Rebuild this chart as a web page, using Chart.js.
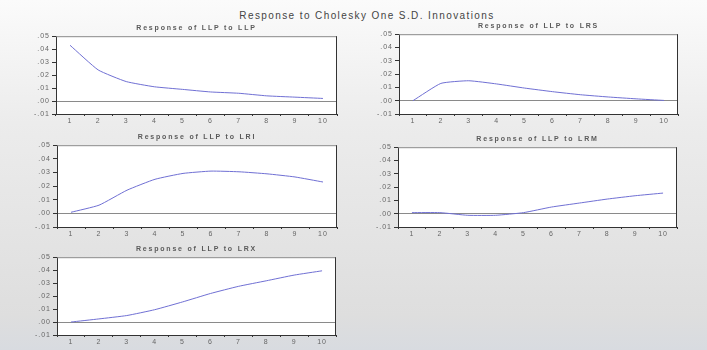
<!DOCTYPE html>
<html>
<head>
	<title>Response to Cholesky One S.D. Innovations</title>
	<script src="https://cdn.jsdelivr.net/npm/chart.js@4.4.0/dist/chart.umd.min.js"></script>
	<style>
		html, body { margin: 0; padding: 0; }
		body {
			width: 707px; height: 350px; overflow: hidden; position: relative;
			background: linear-gradient(to bottom, #fbfbfb 0%, #ececec 35%, #dedede 90%, #d8dbe0 100%);
			font-family: "Liberation Sans", Arial, sans-serif;
		}
		canvas { position: absolute; }
		.ttl { position: absolute; transform: translate(-50%, -50%); white-space: nowrap; color: #444; }
		.main { font-size: 10px; letter-spacing: 1.4px; color: #444; }
		.sub { font-size: 7px; letter-spacing: 1.8px; font-weight: bold; color: #5a5a5a; }
	</style>
</head>
<body>
	<div class="ttl main" style="left:367px; top:15px;">Response to Cholesky One S.D. Innovations</div>
	<script type="text/javascript">
		var periods = ['1', '2', '3', '4', '5', '6', '7', '8', '9', '10'];
		var yTickLabels = ['-.01', '.00', '.01', '.02', '.03', '.04', '.05'];

		var llpToLlp = [0.043, 0.024, 0.015, 0.011, 0.009, 0.007, 0.006, 0.004, 0.003, 0.002];
		var llpToLrs = [0.000, 0.013, 0.015, 0.0126, 0.0095, 0.0068, 0.0045, 0.0028, 0.0014, 0.0002];
		var llpToLri = [0.0008, 0.006, 0.017, 0.025, 0.0293, 0.031, 0.0305, 0.029, 0.0267, 0.023];
		var llpToLrm = [0.0008, 0.0008, -0.0012, -0.0012, 0.0008, 0.005, 0.008, 0.011, 0.0135, 0.0155];
		var llpToLrx = [0.000, 0.0024, 0.005, 0.0095, 0.0155, 0.022, 0.0275, 0.0318, 0.0362, 0.0395];

		var YW = 24, XH = 12, PT = 6, PR = 6;

		// white plot area + frame round it
		var frame = {
			id: 'frame',
			beforeDraw: function(chart) {
				var a = chart.chartArea, c = chart.ctx;
				c.save();
				c.fillStyle = '#ffffff';
				c.fillRect(a.left, a.top, a.right - a.left, a.bottom - a.top);
				c.restore();
				c.letterSpacing = '1px';
			},
			afterDraw: function(chart) {
				var a = chart.chartArea, c = chart.ctx;
				c.save();
				c.strokeStyle = '#888';
				c.lineWidth = 1;
				c.beginPath();
				c.moveTo(a.left, a.top + 0.5);
				c.lineTo(a.right - 0.5, a.top + 0.5);
				c.stroke();
				c.strokeStyle = '#333';
				c.beginPath();
				c.moveTo(a.right - 0.5, a.top);
				c.lineTo(a.right - 0.5, a.bottom);
				c.stroke();
				c.restore();
			}
		};

		function makePanel(title, data, l, r, t, b) {
			var cv = document.createElement('canvas');
			var w = (r - l) + YW + PR, h = (b - t) + PT + XH;
			cv.style.left = (l - YW) + 'px';
			cv.style.top = (t - PT) + 'px';
			cv.style.width = w + 'px';
			cv.style.height = h + 'px';
			cv.width = w; cv.height = h;
			document.body.appendChild(cv);

			var tt = document.createElement('div');
			tt.className = 'ttl sub';
			tt.textContent = title;
			tt.style.left = ((l + r) / 2) + 'px';
			tt.style.top = (t - 9) + 'px';
			document.body.appendChild(tt);

			new Chart(cv.getContext('2d'), {
				type: 'line',
				data: {
					labels: periods,
					datasets: [{
						data: data,
						borderColor: 'rgb(112, 112, 212)',
						borderWidth: 1,
						pointRadius: 0,
						tension: 0.15,
						fill: false
					}]
				},
				options: {
					responsive: false,
					animation: false,
					layout: { padding: { top: PT, right: PR, left: 0, bottom: 0 } },
					plugins: { legend: { display: false }, tooltip: { enabled: false }, title: { display: false } },
					scales: {
						x: {
							type: 'category',
							offset: true,
							afterFit: function(s) { s.height = XH; },
							grid: { offset: true, drawOnChartArea: false, tickLength: 2, color: '#333' },
							border: { color: '#333', width: 1 },
							ticks: { font: { size: 7, family: 'Liberation Sans' }, color: '#666', padding: 1, maxRotation: 0, autoSkip: false }
						},
						y: {
							min: -0.01,
							max: 0.05,
							afterFit: function(s) { s.width = YW; },
							afterBuildTicks: function(s) {
								s.ticks = yTickLabels.map(function(lab, i) { return { value: -0.01 + i * 0.01 }; });
							},
							grid: {
								drawOnChartArea: true,
								tickLength: 4,
								tickColor: '#333',
								color: function(ctx) { return ctx.tick && Math.abs(ctx.tick.value) < 1e-9 ? '#8a8a8a' : 'rgba(0,0,0,0)'; }
							},
							border: { color: '#333', width: 1 },
							ticks: {
								font: { size: 7, family: 'Liberation Sans' },
								color: '#666',
								padding: 2,
								callback: function(v, i) { return yTickLabels[i]; }
							}
						}
					}
				},
				plugins: [frame]
			});
		}

		makePanel('Response of LLP to LLP', llpToLlp, 56, 337, 36, 114);
		makePanel('Response of LLP to LRS', llpToLrs, 399, 678, 34, 114);
		makePanel('Response of LLP to LRI', llpToLri, 57, 337, 145, 227);
		makePanel('Response of LLP to LRM', llpToLrm, 398, 677, 147, 227);
		makePanel('Response of LLP to LRX', llpToLrx, 57, 336, 257, 335);
	</script>
</body>
</html>
